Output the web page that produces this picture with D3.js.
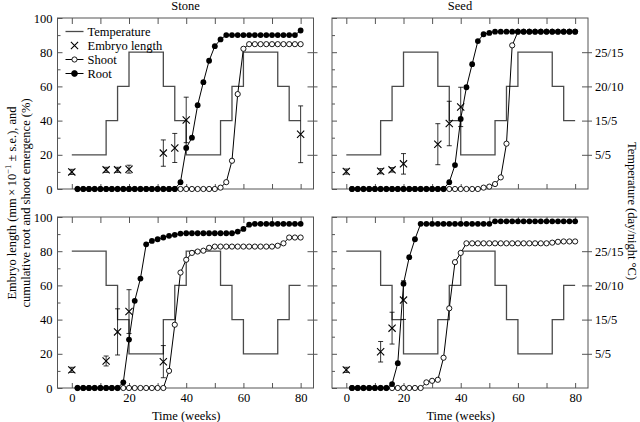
<!DOCTYPE html>
<html>
<head>
<meta charset="utf-8">
<script src="https://cdn.jsdelivr.net/npm/d3@7"></script>
<style>
  body { margin: 0; background: #fff; }
  text { font-family: "Liberation Serif", "DejaVu Serif", serif; fill: #000; }
</style>
</head>
<body>
<div id="chart"></div>
<script>
// sampling weeks for root / shoot emergence
const sampleWeeks = [2, 4, 6, 8, 10, 12, 14, 16, 18, 20, 22, 24, 26, 28, 30, 32, 34, 36, 38, 40,
  42, 44, 46, 48, 50, 52, 54, 56, 58, 60, 62, 64, 66, 68, 70, 72, 74, 76, 78, 80];

// Stone, top (start in winter)
const stoneTopRoot = [0, 0, 0, 0, 0, 0, 0, 0, 0, 0, 0, 0, 0, 0, 0, 0, 0, 0, 4, 24,
  30, 49, 62.5, 75, 83.5, 87.5, 90, 90, 90, 90, 90, 90, 90, 90, 90, 90, 90, 90, 90, 92.7];
const stoneTopShoot = [0, 0, 0, 0, 0, 0, 0, 0, 0, 0, 0, 0, 0, 0, 0, 0, 0, 0, 0, 0,
  0, 0, 0, 0, 0, 0.8, 4, 16.5, 55.5, 82, 84.7, 84.7, 84.7, 84.7, 84.7, 84.7, 84.7, 84.7, 84.7, 84.7];
// Seed, top
const seedTopRoot = [0, 0, 0, 0, 0, 0, 0, 0, 0, 0, 0, 0, 0, 0, 0, 0, 0, 4, 14, 41,
  59.5, 73, 86.5, 90.5, 91.3, 92, 92, 92, 92, 92, 92, 92, 92, 92, 92, 92, 92, 92, 92, 92];
const seedTopShoot = [0, 0, 0, 0, 0, 0, 0, 0, 0, 0, 0, 0, 0, 0, 0, 0, 0, 0, 0, 0,
  0, 0, 0, 0.8, 1.4, 2.9, 6.8, 26.5, 84, 92, 92, 92, 92, 92, 92, 92, 92, 92, 92, 92];
// Stone, bottom (start in summer)
const stoneBottomRoot = [0, 0, 0, 0, 0, 0, 0, 0, 3.3, 28.3, 51, 64, 84, 86, 87, 88, 89, 89.6, 90.3, 90.5,
  90.5, 90.5, 90.5, 90.5, 90.5, 90.5, 90.5, 90.5, 91.5, 93, 95.5, 96, 96, 96, 96, 96, 96, 96, 96, 96];
const stoneBottomShoot = [0, 0, 0, 0, 0, 0, 0, 0, 0, 0, 0, 0, 0, 0, 0, 0, 10, 37, 67.5, 75,
  79, 79.8, 80.3, 82, 82.7, 82.7, 82.7, 82.7, 82.7, 82.7, 82.7, 82.7, 82.7, 82.7, 82.7, 83.2, 84.6, 88, 88, 88];
// Seed, bottom
const seedBottomRoot = [0, 0, 0, 0, 0, 0, 0, 2.3, 14.5, 61, 76.5, 87, 96, 96, 96, 96, 96, 96, 96, 96,
  96, 96, 96, 96, 96, 97.5, 97.5, 97.5, 97.5, 97.5, 97.5, 97.5, 97.5, 97.5, 97.5, 97.5, 97.5, 97.5, 97.5, 97.5];
const seedBottomShoot = [0, 0, 0, 0, 0, 0, 0, 0, 0, 0, 0, 0, 0, 3.3, 4.2, 4.8, 17.7, 46.6, 73.6, 79,
  84.6, 84.6, 84.6, 84.6, 84.6, 84.6, 84.6, 84.6, 84.6, 84.6, 84.6, 84.6, 84.6, 84.6, 84.6, 85, 85.5, 85.7, 85.7, 85.7];

// embryo length (mm x 10^-1) and s.e.
const stoneTopEmbryoWeeks = [0, 12, 16, 20, 32, 36, 40, 80];
const stoneTopEmbryo = [10, 11.2, 11.2, 11.6, 21, 24, 40.4, 32];
const stoneTopEmbryoSe = [1.5, 1.5, 1.5, 2.3, 7.7, 8.5, 13.3, 16.6];
const seedTopEmbryoWeeks = [0, 12, 16, 20, 32, 36, 40];
const seedTopEmbryo = [10.2, 10.4, 11.2, 14.7, 26.2, 38.3, 48];
const seedTopEmbryoSe = [1.5, 1.5, 1.3, 6, 12, 13, 11.5];
const stoneBottomEmbryoWeeks = [0, 12, 16, 20, 32];
const stoneBottomEmbryo = [10.6, 15.8, 32.8, 44.7, 15.4];
const stoneBottomEmbryoSe = [1.5, 2.9, 13.5, 12.8, 9.4];
const seedBottomEmbryoWeeks = [0, 12, 16, 20];
const seedBottomEmbryo = [10.6, 21.2, 35, 51.4];
const seedBottomEmbryoSe = [1.5, 6, 9.3, 11.3];

// temperature regime (steps); levels are placed on the left 0-100 axis
const tempStepWeeks = [0, 12, 16, 20, 32, 36, 40, 52, 56, 60, 72, 76, 80];
const tempTopLevels = [20, 40, 60, 80, 60, 40, 20, 40, 60, 80, 60, 40, 40];
const tempBottomLevels = [80, 60, 40, 20, 40, 60, 80, 60, 40, 20, 40, 60, 60];
const tempTickValues = [20, 40, 60, 80];
const tempTickLabels = ["5/5", "15/5", "20/10", "25/15"];

const leftTicks = [0, 20, 40, 60, 80, 100];
const leftMinorTicks = [10, 30, 50, 70, 90];
const weekTicks = [0, 10, 20, 30, 40, 50, 60, 70, 80];

let width = 640, height = 422;
let panelW = 256, panelH = 171;
let colX = [57.5, 332];
let rowY = [18, 217];
let frameColor = "#555";

let svg = d3.select("#chart")
  .append("svg")
    .attr("width", width)
    .attr("height", height);

let x = d3.scaleLinear().domain([-5, 84.5]).range([0, panelW]);
let y = d3.scaleLinear().domain([0, 100]).range([panelH, 0]);

let panels = [
  {col: 0, row: 0, title: "Stone", temp: tempTopLevels, root: stoneTopRoot, shoot: stoneTopShoot,
    ew: stoneTopEmbryoWeeks, em: stoneTopEmbryo, es: stoneTopEmbryoSe},
  {col: 1, row: 0, title: "Seed", temp: tempTopLevels, root: seedTopRoot, shoot: seedTopShoot,
    ew: seedTopEmbryoWeeks, em: seedTopEmbryo, es: seedTopEmbryoSe},
  {col: 0, row: 1, temp: tempBottomLevels, root: stoneBottomRoot, shoot: stoneBottomShoot,
    ew: stoneBottomEmbryoWeeks, em: stoneBottomEmbryo, es: stoneBottomEmbryoSe},
  {col: 1, row: 1, temp: tempBottomLevels, root: seedBottomRoot, shoot: seedBottomShoot,
    ew: seedBottomEmbryoWeeks, em: seedBottomEmbryo, es: seedBottomEmbryoSe}
];

let tempLine = d3.line()
  .x((d, i) => x(tempStepWeeks[i]))
  .y(d => y(d))
  .curve(d3.curveStepAfter);

let seriesLine = d3.line()
  .x((d, i) => x(sampleWeeks[i]))
  .y(d => y(d));

function styleAxis(g) {
  g.select(".domain").remove();
  g.selectAll(".tick line").attr("stroke", frameColor);
  g.selectAll("text").attr("font-size", 12.5).attr("font-family", "Liberation Serif, serif");
}

function crossPath(cx, cy, s) {
  return "M" + (cx - s) + "," + (cy - s) + "L" + (cx + s) + "," + (cy + s) +
    "M" + (cx - s) + "," + (cy + s) + "L" + (cx + s) + "," + (cy - s);
}

panels.forEach(p => {
  let g = svg.append("g")
    .attr("transform", "translate(" + colX[p.col] + "," + rowY[p.row] + ")");

  // axes
  g.append("g")
    .call(d3.axisLeft(y).tickValues(leftTicks).tickSize(-5).tickPadding(5)
      .tickFormat(p.col === 0 ? d3.format("d") : () => ""))
    .call(styleAxis);
  g.append("g")
    .call(d3.axisLeft(y).tickValues(leftMinorTicks).tickSize(-3).tickFormat(() => ""))
    .call(styleAxis);
  g.append("g")
    .call(d3.axisTop(x).tickValues(weekTicks).tickSize(-6).tickFormat(() => ""))
    .call(styleAxis);
  g.append("g")
    .attr("transform", "translate(0," + panelH + ")")
    .call(d3.axisBottom(x).tickValues(weekTicks).tickSize(-5).tickPadding(5)
      .tickFormat(d => (p.row === 1 && d % 20 === 0) ? d : ""))
    .call(styleAxis);
  g.append("g")
    .attr("transform", "translate(" + panelW + ",0)")
    .call(d3.axisRight(y).tickValues(tempTickValues).tickSize(4).tickPadding(3)
      .tickFormat((d, i) => p.col === 1 ? tempTickLabels[i] : ""))
    .call(styleAxis);
  g.append("g")
    .attr("transform", "translate(" + panelW + ",0)")
    .call(d3.axisRight(y).tickValues(tempTickValues).tickSize(-6).tickFormat(() => ""))
    .call(styleAxis);

  g.append("rect")
    .attr("width", panelW)
    .attr("height", panelH)
    .attr("fill", "none")
    .attr("stroke", frameColor)
    .attr("stroke-width", 1);

  if (p.title) {
    g.append("text")
      .attr("x", panelW / 2)
      .attr("y", -8.5)
      .attr("text-anchor", "middle")
      .attr("font-size", 12.5)
      .text(p.title);
  }

  // temperature
  g.append("path")
    .datum(p.temp)
    .attr("d", tempLine)
    .attr("fill", "none")
    .attr("stroke", "#4a4a4a")
    .attr("stroke-width", 1.3);

  // embryo length with error bars
  let emb = g.append("g").attr("stroke", "#000").attr("fill", "none");
  p.ew.forEach((w, i) => {
    let cx = x(w), lo = y(p.em[i] - p.es[i]), hi = y(p.em[i] + p.es[i]);
    emb.append("line").attr("x1", cx).attr("x2", cx).attr("y1", lo).attr("y2", hi).attr("stroke-width", 0.8);
    emb.append("line").attr("x1", cx - 2.5).attr("x2", cx + 2.5).attr("y1", lo).attr("y2", lo).attr("stroke-width", 0.8);
    emb.append("line").attr("x1", cx - 2.5).attr("x2", cx + 2.5).attr("y1", hi).attr("y2", hi).attr("stroke-width", 0.8);
    emb.append("path").attr("d", crossPath(cx, y(p.em[i]), 3.6)).attr("stroke-width", 1.1);
  });

  // shoot (open) then root (filled)
  g.append("path")
    .datum(p.shoot)
    .attr("d", seriesLine)
    .attr("fill", "none")
    .attr("stroke", "#000")
    .attr("stroke-width", 1);
  g.selectAll(".shoot")
    .data(p.shoot)
    .join("circle")
      .attr("class", "shoot")
      .attr("cx", (d, i) => x(sampleWeeks[i]))
      .attr("cy", d => y(d))
      .attr("r", 2.6)
      .attr("fill", "#fff")
      .attr("stroke", "#000")
      .attr("stroke-width", 0.9);

  g.append("path")
    .datum(p.root)
    .attr("d", seriesLine)
    .attr("fill", "none")
    .attr("stroke", "#000")
    .attr("stroke-width", 1);
  g.selectAll(".root")
    .data(p.root)
    .join("circle")
      .attr("class", "root")
      .attr("cx", (d, i) => x(sampleWeeks[i]))
      .attr("cy", d => y(d))
      .attr("r", 2.9)
      .attr("fill", "#000");
});

// legend in the first panel
let legend = svg.append("g").attr("transform", "translate(" + colX[0] + "," + rowY[0] + ")");
let legendItems = ["Temperature", "Embryo length", "Shoot", "Root"];
legendItems.forEach((name, i) => {
  let ly = 13.5 + i * 14, lx = 8;
  if (i === 0) {
    legend.append("line").attr("x1", lx).attr("x2", lx + 18).attr("y1", ly).attr("y2", ly)
      .attr("stroke", "#4a4a4a").attr("stroke-width", 1.3);
  } else if (i === 1) {
    legend.append("path").attr("d", crossPath(lx + 9, ly, 3.6)).attr("stroke", "#000").attr("stroke-width", 1.1);
  } else {
    legend.append("line").attr("x1", lx).attr("x2", lx + 18).attr("y1", ly).attr("y2", ly)
      .attr("stroke", "#000");
    legend.append("circle").attr("cx", lx + 9).attr("cy", ly).attr("r", i === 2 ? 2.6 : 2.9)
      .attr("fill", i === 2 ? "#fff" : "#000").attr("stroke", "#000").attr("stroke-width", 0.9);
  }
  legend.append("text")
    .attr("x", lx + 22)
    .attr("y", ly + 4.5)
    .attr("font-size", 12.5)
    .text(name);
});

// axis titles
let midY = (rowY[0] + rowY[1] + panelH) / 2;
let yTitle = svg.append("text")
  .attr("transform", "translate(16," + midY + ") rotate(-90)")
  .attr("text-anchor", "middle")
  .attr("font-size", 12.5);
yTitle.append("tspan").text("Embryo length (mm\u2009×\u200910");
yTitle.append("tspan").attr("font-size", 8.5).attr("dy", -5).text("\u22121");
yTitle.append("tspan").attr("dy", 5).text(" ± s.e.), and");
svg.append("text")
  .attr("transform", "translate(30," + midY + ") rotate(-90)")
  .attr("text-anchor", "middle")
  .attr("font-size", 12.5)
  .text("cumulative root and shoot emergence (%)");

svg.append("text")
  .attr("transform", "translate(628," + (midY + 8) + ") rotate(90)")
  .attr("text-anchor", "middle")
  .attr("font-size", 12.5)
  .text("Temperature (day/night \u00B0C)");

colX.forEach(cx => {
  svg.append("text")
    .attr("x", cx + x(40))
    .attr("y", 420)
    .attr("text-anchor", "middle")
    .attr("font-size", 12.5)
    .text("Time (weeks)");
});
</script>
</body>
</html>
